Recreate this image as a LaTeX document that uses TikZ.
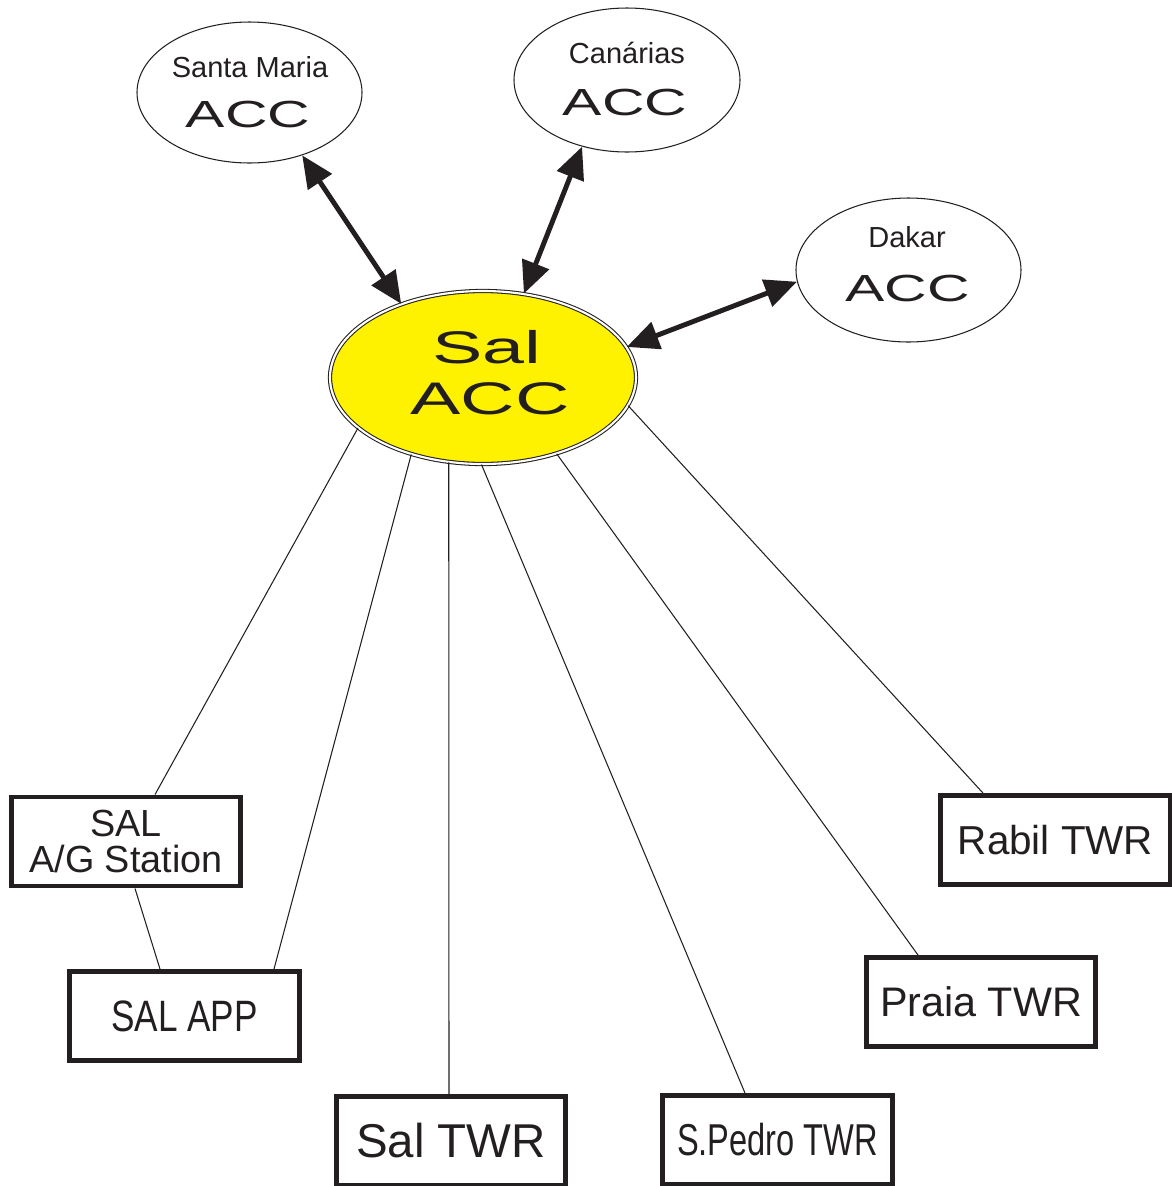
\documentclass[tikz,border=0pt]{standalone}
\usepackage{fontspec}
\setmainfont{Liberation Sans}
\usetikzlibrary{arrows.meta,shapes.geometric}

\definecolor{ink}{HTML}{231F20}
\definecolor{accyellow}{HTML}{FFF200}

\newcommand{\fs}[1]{\fontsize{#1}{#1}\selectfont}
\newcommand{\wide}[2]{\scalebox{#1}[1]{#2}}

\tikzstyle{acc} = [ellipse,draw=ink,line width=0.6pt,inner sep=0pt]
\tikzstyle{mainacc} = [ellipse,draw=ink,line width=0.6pt,double=white,double distance=1.2pt,fill=accyellow,inner sep=0pt]
\tikzstyle{unit} = [rectangle,draw=ink,line width=2.8pt,minimum width=45.9mm,minimum height=17.8mm,inner sep=0pt,text=ink,align=center]
\tikzstyle{lbl} = [inner sep=0pt,anchor=base,text=ink]
\tikzstyle{link} = [draw=ink,line width=0.6pt]
\tikzstyle{hotline} = [draw=ink,line width=2.8pt,{Triangle[length=6.4mm,width=5.6mm]}-{Triangle[length=6.4mm,width=5.6mm]}]

\begin{document}
\begin{tikzpicture}[x=0.2mm,y=-0.2mm]
		\useasboundingbox (0,0) rectangle (1172,1186);
		% area control centres
		\node[acc,minimum width=45mm,minimum height=28.2mm] (sm) at (249.5,92.5) {};
		\node[acc,minimum width=45.2mm,minimum height=28.8mm] (can) at (627,80) {};
		\node[acc,minimum width=45mm,minimum height=28.8mm] (dak) at (908.5,270) {};
		\node[mainacc,minimum width=61.2mm,minimum height=34.6mm] (sal) at (483,377.5) {};
		\node[lbl] (smname) at (250,77) {\fs{16.5}Santa Maria};
		\node[lbl] (smacc) at (248,127) {\fs{21.5}\wide{1.56}{ACC}};
		\node[lbl] (canname) at (627,63) {\fs{16.5}Canárias};
		\node[lbl] (canacc) at (625,115) {\fs{21.5}\wide{1.56}{ACC}};
		\node[lbl] (dakname) at (907,247) {\fs{16.5}Dakar};
		\node[lbl] (dakacc) at (907.5,301) {\fs{21.5}\wide{1.56}{ACC}};
		\node[lbl] (salname) at (487,363) {\fs{26}\wide{1.65}{Sal}};
		\node[lbl] (salacc) at (490,414) {\fs{26}\wide{1.65}{ACC}};
		% towers and stations
		\node[unit,font={\fontsize{21.5}{20.4}\selectfont}] (ag) at (126,841.5) {SAL\\A/G Station\hspace{1.4mm}};
		\node[unit] (app) at (184.5,1016) {\fs{25}\wide{0.8}{SAL APP}};
		\node[unit] (saltwr) at (451,1141) {\fs{27}Sal TWR};
		\node[unit] (spedro) at (777.5,1140) {\fs{25.4}\wide{0.73}{S.Pedro TWR}};
		\node[unit] (praia) at (981,1002) {\fs{23.5}Praia TWR};
		\node[unit] (rabil) at (1055.5,840) {\fs{23}Rabil TWR};
		% links
		\draw[hotline] (sal.138) -- (sm.310);
		\draw[hotline] (sal.64) -- (can.236);
		\draw[hotline] (sal.12) -- (dak.186);
		\draw[link] (sal.202) -- ([xshift=5.8mm]ag.north);
		\draw[link] (sal.227) -- ([xshift=17.9mm]app.north);
		\draw[link] ([xshift=1.8mm]ag.south) -- ([xshift=-4.9mm]app.north);
		\draw[link] (sal.248) -- ([xshift=-0.4mm]saltwr.north);
		\draw[link] (sal.269) -- ([xshift=-6.5mm]spedro.north);
		\draw[link] (sal.314) -- ([xshift=-12.6mm]praia.north);
		\draw[link] (sal.349) -- ([xshift=-14.5mm]rabil.north);
\end{tikzpicture}
\end{document}
